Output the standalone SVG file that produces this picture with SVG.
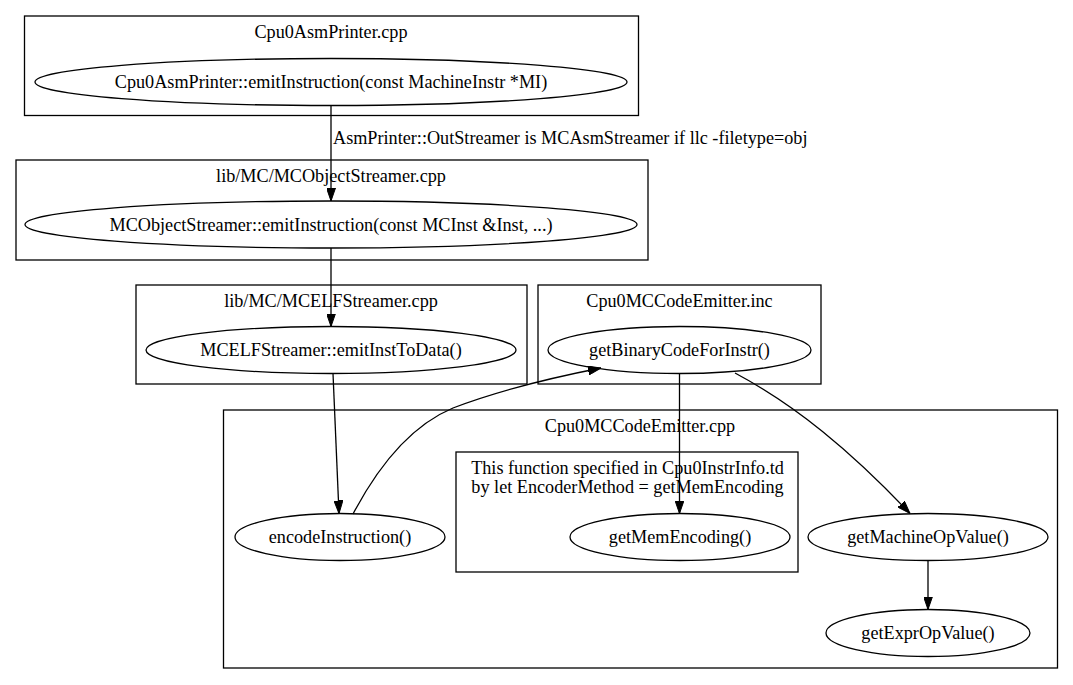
<svg xmlns="http://www.w3.org/2000/svg" width="1073" height="685" viewBox="0 0 1073 685">
<style>
text{font-family:"Liberation Serif","Times New Roman",serif;font-size:18.2px;fill:#000;text-anchor:middle}
.c{fill:none;stroke:#000;stroke-width:1.3}
.n{fill:none;stroke:#000;stroke-width:1.3}
.e{fill:none;stroke:#000;stroke-width:1.3}
</style>
<defs>
<marker id="ah" markerWidth="13" markerHeight="9" refX="13" refY="4.5" orient="auto" markerUnits="userSpaceOnUse">
<path d="M0,0 L13,4.5 L0,9 Z" fill="#000" stroke="#000" stroke-width="1"/>
</marker>
</defs>
<rect width="1073" height="685" fill="#fff"/>
<g id="cluster_asmprinter">
<rect class="c" x="24.5" y="16" width="614" height="99.5"/>
<text x="331" y="37.5">Cpu0AsmPrinter.cpp</text>
</g>
<g id="node_emitInstruction">
<ellipse class="n" cx="331" cy="82" rx="296" ry="23.5"/>
<text x="331" y="88">Cpu0AsmPrinter::emitInstruction(const MachineInstr *MI)</text>
</g>
<g id="cluster_mcobject">
<rect class="c" x="16" y="160" width="632" height="100"/>
<text x="331" y="181.5">lib/MC/MCObjectStreamer.cpp</text>
</g>
<g id="node_mcobject_emit">
<ellipse class="n" cx="331" cy="224.5" rx="306" ry="23.5"/>
<text x="331" y="230.5">MCObjectStreamer::emitInstruction(const MCInst &amp;Inst, ...)</text>
</g>
<g id="cluster_mcelf">
<rect class="c" x="136" y="285" width="391" height="99"/>
<text x="331" y="306.5">lib/MC/MCELFStreamer.cpp</text>
</g>
<g id="node_emitInstToData">
<ellipse class="n" cx="331" cy="350" rx="185" ry="23.5"/>
<text x="331" y="356">MCELFStreamer::emitInstToData()</text>
</g>
<g id="cluster_inc">
<rect class="c" x="538" y="285" width="283" height="99"/>
<text x="679.5" y="306.5">Cpu0MCCodeEmitter.inc</text>
</g>
<g id="node_getBinaryCodeForInstr">
<ellipse class="n" cx="679.5" cy="350" rx="131.5" ry="23.5"/>
<text x="679.5" y="356">getBinaryCodeForInstr()</text>
</g>
<g id="cluster_cpp">
<rect class="c" x="223.5" y="410" width="834" height="258"/>
<text x="640" y="432">Cpu0MCCodeEmitter.cpp</text>
</g>
<g id="cluster_td">
<rect class="c" x="456" y="452" width="342" height="120"/>
<text x="627.5" y="473.5">This function specified in Cpu0InstrInfo.td</text>
<text x="627.5" y="493">by let EncoderMethod = getMemEncoding</text>
</g>
<g id="node_encodeInstruction">
<ellipse class="n" cx="340" cy="537" rx="105" ry="23.5"/>
<text x="340" y="543">encodeInstruction()</text>
</g>
<g id="node_getMemEncoding">
<ellipse class="n" cx="680" cy="537" rx="110" ry="23.5"/>
<text x="680" y="543">getMemEncoding()</text>
</g>
<g id="node_getMachineOpValue">
<ellipse class="n" cx="928" cy="537" rx="120" ry="23.5"/>
<text x="928" y="543">getMachineOpValue()</text>
</g>
<g id="node_getExprOpValue">
<ellipse class="n" cx="928" cy="633" rx="102" ry="23.5"/>
<text x="928" y="639">getExprOpValue()</text>
</g>
<g id="connectors">
<path class="e" d="M331,105.5 L331,201" marker-end="url(#ah)"/>
<text x="333" y="144" style="text-anchor:start">AsmPrinter::OutStreamer is MCAsmStreamer if llc -filetype=obj</text>
<path class="e" d="M331,248 L331,326.5" marker-end="url(#ah)"/>
<path class="e" d="M333,373.5 L339,513.5" marker-end="url(#ah)"/>
<path class="e" d="M353,514 C372,478 405,428 453,408 C495,392 550,378 601,368" marker-end="url(#ah)"/>
<path class="e" d="M679.5,373.5 L679.5,513.5" marker-end="url(#ah)"/>
<path class="e" d="M735,373 C795,405 850,450 910,513.5" marker-end="url(#ah)"/>
<path class="e" d="M928,560.5 L928,609.5" marker-end="url(#ah)"/>
</g>
</svg>
